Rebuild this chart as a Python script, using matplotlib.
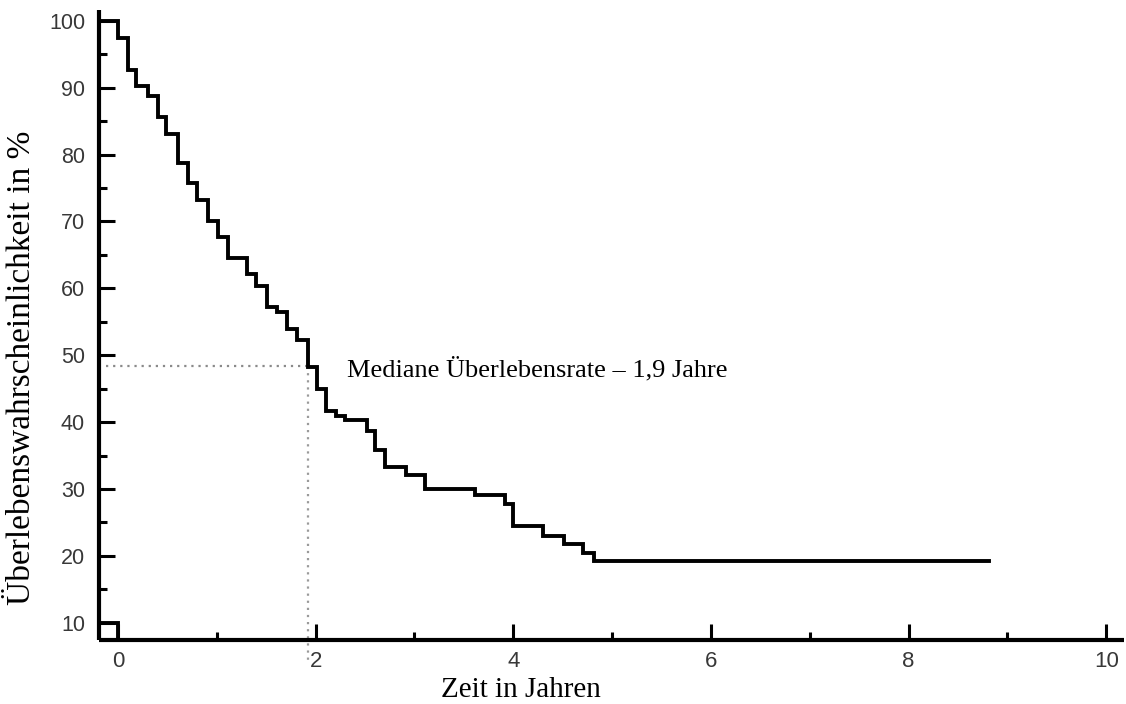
import matplotlib
matplotlib.use('Agg')
import matplotlib.pyplot as plt
from matplotlib.ticker import MultipleLocator

# Kaplan-Meier steps (years, survival in %)
step_times = [0, 0.105, 0.18, 0.30, 0.41, 0.49, 0.61, 0.71, 0.80, 0.91,
              1.01, 1.11, 1.31, 1.40, 1.51, 1.61, 1.71, 1.81, 1.92, 2.01,
              2.11, 2.21, 2.30, 2.52, 2.60, 2.70, 2.91, 3.11, 3.61, 3.92,
              4.00, 4.30, 4.51, 4.71, 4.82]
step_values = [97.4, 92.6, 90.2, 88.7, 85.6, 83.0, 78.8, 75.7, 73.2, 70.1,
               67.7, 64.5, 62.1, 60.3, 57.2, 56.4, 53.9, 52.3, 48.3, 44.9,
               41.7, 40.9, 40.3, 38.6, 35.9, 33.3, 32.1, 30.0, 29.1, 27.8,
               24.4, 23.0, 21.8, 20.5, 19.2]
start_value = 100
end_time = 8.81

median_time = 1.92
median_value = 48.4
median_text = 'Mediane Überlebensrate – 1,9 Jahre'

x_ticks = [0, 2, 4, 6, 8, 10]
y_ticks = [10, 20, 30, 40, 50, 60, 70, 80, 90, 100]

serif = ['Liberation Serif', 'DejaVu Serif']
sans = ['Liberation Sans', 'DejaVu Sans']

fig = plt.figure(figsize=(11.26, 7.04), dpi=100)
ax = fig.add_axes([99 / 1126, 64 / 704, 1025 / 1126, 630 / 704])
ax.set_xlim(-0.192, 10.18)
ax.set_ylim(7.43, 101.6)

# survival curve, starting at the left edge of the axis
x0 = ax.get_xlim()[0]
xs = [x0, step_times[0]]
ys = [start_value, start_value]
cur = start_value
for t, v in zip(step_times, step_values):
    xs += [t, t]
    ys += [cur, v]
    cur = v
xs.append(end_time)
ys.append(cur)
ax.plot(xs, ys, color='black', lw=2.8, solid_joinstyle='miter', clip_on=False, zorder=3)

# small bracket at the bottom left
ax.plot([x0, 0, 0], [10, 10, ax.get_ylim()[0]], color='black', lw=2.8,
        solid_joinstyle='miter', clip_on=False, zorder=3)

# median guide lines
ax.plot([-0.12, median_time], [median_value, median_value], color='#8a8a8a',
        lw=1.6, linestyle=(0, (1, 2.2)), zorder=2)
ax.plot([median_time, median_time], [median_value, 4.4], color='#9a9a9a',
        lw=1.6, linestyle=(0, (1, 2.2)), clip_on=False, zorder=2)
ax.text(2.32, 47.9, median_text, fontsize=19, family=serif, va='center', ha='left')

for side in ['top', 'right']:
    ax.spines[side].set_visible(False)
for side in ['left', 'bottom']:
    ax.spines[side].set_linewidth(3)
    ax.spines[side].set_capstyle('butt')

ax.set_xticks(x_ticks)
ax.set_yticks(y_ticks)
ax.xaxis.set_minor_locator(MultipleLocator(1))
ax.yaxis.set_minor_locator(MultipleLocator(5))
ax.tick_params(which='major', direction='in', length=11.5, width=2.2, color='black')
ax.tick_params(which='minor', direction='in', length=6, width=2.2, color='black')
ax.tick_params(axis='y', which='major', pad=10, labelsize=15.5, labelcolor='#383838')
ax.tick_params(axis='x', which='major', pad=8, labelsize=16, labelcolor='#383838')
for lab in ax.get_xticklabels() + ax.get_yticklabels():
    lab.set_family(sans)

fig.text(22 / 1126, 1 - 368 / 704, 'Überlebenswahrscheinlichkeit in %', rotation=90,
         fontsize=24, family=serif, ha='center', va='center')
fig.text(521 / 1126, 1 - 690 / 704, 'Zeit in Jahren', fontsize=21, family=serif,
         ha='center', va='center')

fig.savefig('out.png', dpi=100)
